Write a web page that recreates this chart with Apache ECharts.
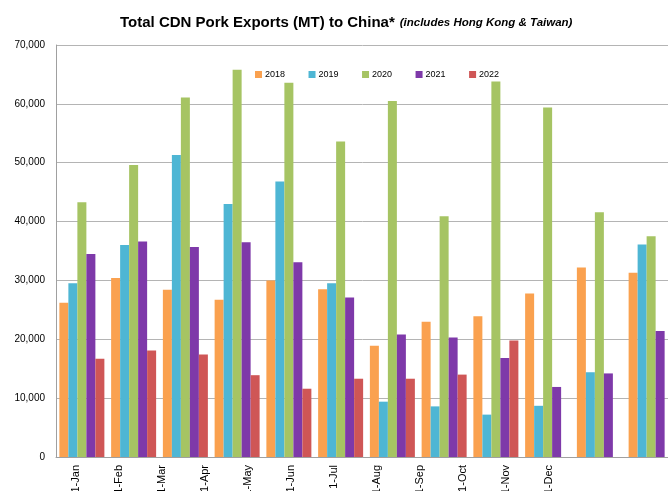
<!DOCTYPE html>
<html><head><meta charset="utf-8">
<script src="https://cdn.jsdelivr.net/npm/echarts@6/dist/echarts.min.js"></script>
<style>html,body{margin:0;padding:0;background:#fff}#c{width:668px;height:491px}</style>
</head><body><div id="c"></div>
<script>
var categories = ['1-Jan','1-Feb','1-Mar','1-Apr','1-May','1-Jun','1-Jul','1-Aug','1-Sep','1-Oct','1-Nov','1-Dec'];
var years = ['2018','2019','2020','2021','2022'];
var s2018 = [26200,30400,28400,26700,30000,28500,18900,23000,23900,27800,32200,31300];
var s2019 = [29500,36000,51300,43000,46800,29500,9400,8600,7200,8700,14400,36100];
var s2020 = [43300,49600,61100,65800,63600,53600,60500,40900,63800,59400,41600,37500];
var s2021 = [34500,36600,35700,36500,33100,27100,20800,20300,16800,11900,14200,21400];
var s2022 = [16700,18100,17400,13900,11600,13300,13300,14000,19800,null,null,null];
var yTicks = [0,10000,20000,30000,40000,50000,60000,70000];

var colors = ['#FAA14F','#4EB6D4','#A6C463','#7E39A9','#CF5656'];
var data = [s2018,s2019,s2020,s2021,s2022];
var font = 'Liberation Sans, Arial, sans-serif';
var chart = echarts.init(document.getElementById('c'), null, {renderer:'canvas'});
var series = years.map(function(y,i){
  return {name:y,type:'bar',data:data[i],barWidth:9,barGap:'0%',xAxisIndex:0,yAxisIndex:0,
    itemStyle:{color:colors[i]}};
});
chart.setOption({
  animation:false,
  backgroundColor:'#fff',
  title:{
    text:'{b|Total CDN Pork Exports (MT) to China*} {i|(includes Hong Kong & Taiwan)}',
    left:115, top:9,
    textStyle:{rich:{
      b:{fontFamily:font,fontWeight:'bold',fontSize:15,color:'#000'},
      i:{fontFamily:font,fontStyle:'italic',fontSize:11.5,color:'#000'}
    }}
  },
  legend:{
    data:years, left:250, top:65, itemWidth:7, itemHeight:7, itemGap:23.5,
    icon:'rect',
    textStyle:{fontFamily:font,fontSize:9,color:'#000',padding:[0,0,0,-2]}
  },
  grid:[
    {left:56, top:45, width:621, bottom:34, containLabel:false, outerBoundsMode:'none'},
    {left:54, top:45, width:516, bottom:34, containLabel:false, outerBoundsMode:'none'}
  ],
  xAxis:[
    {type:'category', gridIndex:0, data:categories,
     axisLine:{lineStyle:{color:'#a0a0a0'}}, axisTick:{show:false}, axisLabel:{show:false}},
    {type:'category', gridIndex:1, data:categories,
     axisLine:{show:false}, axisTick:{show:false},
     axisLabel:{rotate:90, fontFamily:font, fontSize:11, color:'#000', margin:8}}
  ],
  yAxis:[
    {type:'value', gridIndex:0, min:0, max:70000, interval:10000,
     axisLine:{show:true,lineStyle:{color:'#a0a0a0'}}, axisTick:{show:false},
     splitLine:{lineStyle:{color:'#b4b4b4'}},
     axisLabel:{fontFamily:font,fontSize:10,color:'#000',margin:11,
       formatter:function(v){return v.toLocaleString('en-US');}}},
    {type:'value', gridIndex:1, min:0, max:70000, show:false, splitLine:{show:false}}
  ],
  series:series
});
</script></body></html>
